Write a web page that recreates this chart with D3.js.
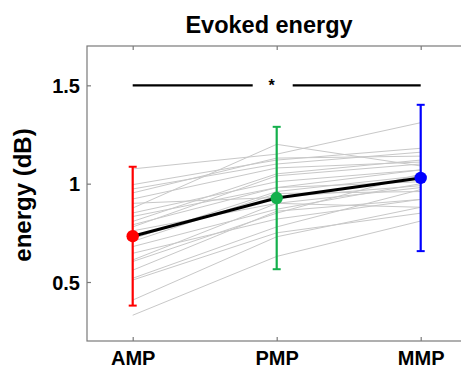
<!DOCTYPE html>
<html><head><meta charset="utf-8">
<script src="https://cdn.jsdelivr.net/npm/d3@7"></script>
<style>body{margin:0;background:#fff}svg{display:block;font-family:"Liberation Sans",Arial,sans-serif}</style>
</head><body><svg id="c" width="461" height="368"></svg>
<script>
const categories = ["AMP", "PMP", "MMP"];
const yTicks = [0.5, 1, 1.5];
const meanValues = [0.733, 0.927, 1.029];
const errValues = [0.353, 0.362, 0.372];
const subjAMP = [1.075,0.995,0.973,0.953,0.922,0.876,0.851,0.833,0.808,0.791,0.760,0.706,0.680,0.646,0.612,0.604,0.519,0.510,0.408,0.331,0.560,0.720,0.900,0.780];
const subjPMP = [1.150,1.120,1.100,1.130,1.080,1.200,1.010,0.980,1.050,0.980,0.900,0.950,0.870,0.820,0.900,0.850,0.780,0.750,0.730,0.630,0.860,0.960,0.930,1.040];
const subjMMP = [1.310,1.180,1.160,1.140,1.110,1.090,1.070,1.070,1.120,1.010,0.980,0.960,1.000,0.920,0.880,1.050,0.970,0.850,0.880,0.810,0.920,1.040,0.990,1.100];
const sigLevel = 1.5;
const sigLabel = "*";
const title = "Evoked energy";
const yLabel = "energy (dB)";

const svg = d3.select("#c");
const pL = 87, pR = 466, pT = 46, pB = 341;
const x = d3.scalePoint().domain(categories).range([132.7, 420.7]);
const y = d3.scaleLinear().domain([0.2, 1.7]).range([pB, pT]);
const colors = ["#ff0000", "#14b04c", "#0000ff"];

// frame
svg.append("rect").attr("x", pL).attr("y", pT).attr("width", pR-pL).attr("height", pB-pT)
  .attr("fill", "none").attr("stroke", "#7a7a7a").attr("stroke-width", 1.2);

// axes
const ax = svg.append("g").attr("transform", `translate(0,${pB})`)
  .call(d3.axisBottom(x).tickSizeInner(-4).tickSizeOuter(0).tickPadding(10));
const axTop = svg.append("g").attr("transform", `translate(0,${pT})`)
  .call(d3.axisTop(x).tickSizeInner(-4).tickSizeOuter(0).tickFormat(""));
const ay = svg.append("g").attr("transform", `translate(${pL},0)`)
  .call(d3.axisLeft(y).tickValues(yTicks).tickFormat(d3.format("")).tickSizeInner(-4).tickSizeOuter(0).tickPadding(7));
[ax, axTop, ay].forEach(g => {
  g.select(".domain").remove();
  g.selectAll(".tick line").attr("stroke", "#7a7a7a").attr("stroke-width", 1.2);
  g.selectAll("text").attr("font-size", 20).attr("font-weight", "bold").attr("fill", "#000")
    .attr("font-family", '"Liberation Sans",Arial,sans-serif');
});
ay.selectAll("text").attr("dy", "0.35em");
ax.selectAll("text").attr("dy", "0.71em").attr("y", 10);

// subject lines
const subjects = subjAMP.map((d, i) => [subjAMP[i], subjPMP[i], subjMMP[i]]);
const line = d3.line().x((d, i) => x(categories[i])).y(d => y(d));
svg.append("g").selectAll("path").data(subjects).join("path")
  .attr("d", line).attr("fill", "none").attr("stroke", "#c8c8c8").attr("stroke-width", 1);

// error bars
const eb = svg.append("g");
categories.forEach((c, i) => {
  const cx = x(c), hi = y(meanValues[i] + errValues[i]), lo = y(meanValues[i] - errValues[i]);
  eb.append("line").attr("x1", cx).attr("x2", cx).attr("y1", hi).attr("y2", lo).attr("stroke", colors[i]).attr("stroke-width", 2.2);
  [hi, lo].forEach(yy => eb.append("line").attr("x1", cx-4).attr("x2", cx+4).attr("y1", yy).attr("y2", yy).attr("stroke", colors[i]).attr("stroke-width", 2));
});

// mean line
svg.append("path").datum(meanValues).attr("d", line).attr("fill", "none").attr("stroke", "#000").attr("stroke-width", 3);
svg.append("g").selectAll("circle").data(meanValues).join("circle")
  .attr("cx", (d, i) => x(categories[i])).attr("cy", d => y(d)).attr("r", 6.2).attr("fill", (d, i) => colors[i]);

// significance bar
const sx1 = x(categories[0]), sx2 = x(categories[2]), sy = y(sigLevel), mid = (sx1 + sx2) / 2 - 4;
svg.append("line").attr("x1", sx1).attr("x2", mid - 20).attr("y1", sy).attr("y2", sy).attr("stroke", "#000").attr("stroke-width", 2.2);
svg.append("line").attr("x1", mid + 20).attr("x2", sx2).attr("y1", sy).attr("y2", sy).attr("stroke", "#000").attr("stroke-width", 2.2);
svg.append("text").attr("x", mid - 1).attr("y", sy + 6).attr("text-anchor", "middle")
  .attr("font-size", 16).attr("font-weight", "bold").text(sigLabel);

// title & y label
svg.append("text").attr("x", 269).attr("y", 33).attr("text-anchor", "middle")
  .attr("font-size", 23.5).attr("font-weight", "bold").text(title);
svg.append("text").attr("transform", "translate(31,195) rotate(-90)").attr("text-anchor", "middle")
  .attr("font-size", 24).attr("font-weight", "bold").text(yLabel);
</script></body></html>
